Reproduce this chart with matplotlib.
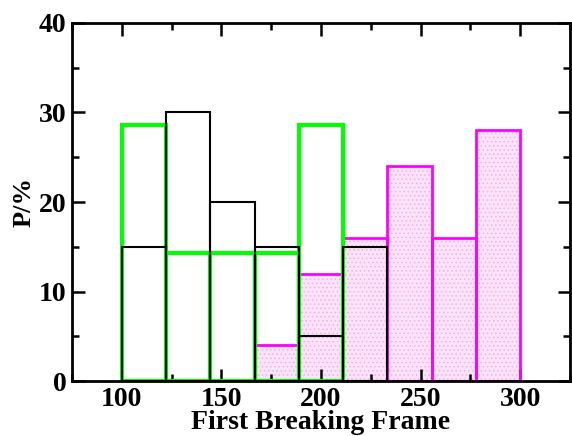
import matplotlib
matplotlib.use("Agg")
import matplotlib.pyplot as plt
import numpy as np

plt.rcParams['font.family'] = ['Liberation Serif', 'DejaVu Serif']
plt.rcParams['font.weight'] = 'bold'
plt.rcParams['hatch.linewidth'] = 0.6

# bin edges (9 bins from 100 to 300)
bin_edges = [100.0, 122.2, 144.4, 166.7, 188.9, 211.1, 233.3, 255.6, 277.8, 300.0]
magenta_vals = [0, 0, 0, 4, 12, 16, 24, 16, 28]
black_vals = [15, 30, 20, 15, 5, 15, 0, 0, 0]
green_vals = [28.6, 14.3, 14.3, 14.3, 28.6, 0, 0, 0, 0]

xticks = [100, 150, 200, 250, 300]
yticks = [0, 10, 20, 30, 40]

edges = np.array(bin_edges)
lefts = edges[:-1]
widths = np.diff(edges)

fig = plt.figure(figsize=(5.72, 4.36), dpi=100)
ax = fig.add_axes([72/572, 55/436, 498/572, 358/436])

# magenta: light pink dotted fill + magenta outline
mv = np.array(magenta_vals)
m = mv > 0
ax.bar(lefts[m], mv[m], width=widths[m], align='edge', color='#fde3f9',
       edgecolor='#f5aeec', hatch='....', linewidth=0, zorder=1)
ax.bar(lefts[m], mv[m], width=widths[m], align='edge', fill=False,
       edgecolor='#ff00ff', linewidth=2.0, zorder=2)

bv = np.array(black_vals)
b = bv > 0
ax.bar(lefts[b], bv[b], width=widths[b], align='edge', fill=False,
       edgecolor='black', linewidth=1.5, zorder=3)

gv = np.array(green_vals)
g = gv > 0
ax.bar(lefts[g], gv[g], width=widths[g], align='edge', fill=False,
       edgecolor='#00ff00', linewidth=3.0, zorder=2.5)

ax.set_xlim(75, 325)
ax.set_ylim(0, 40)
ax.set_xticks(xticks)
ax.set_yticks(yticks)
ax.set_xticks(np.arange(75, 326, 25), minor=True)
ax.set_yticks(np.arange(0, 41, 5), minor=True)
ax.tick_params(which='both', direction='in', top=True, right=True, width=1.8,
               labelsize=20, pad=4)
ax.tick_params(which='major', length=9)
ax.tick_params(which='minor', length=5)
for s in ax.spines.values():
    s.set_linewidth(2.0)
    s.set_zorder(5)

ax.set_xlabel('First Breaking Frame', fontsize=20, fontweight='bold', labelpad=-1)
ax.set_ylabel('P/%', fontsize=19, fontweight='bold', labelpad=2)

fig.savefig('out.png', dpi=100)
